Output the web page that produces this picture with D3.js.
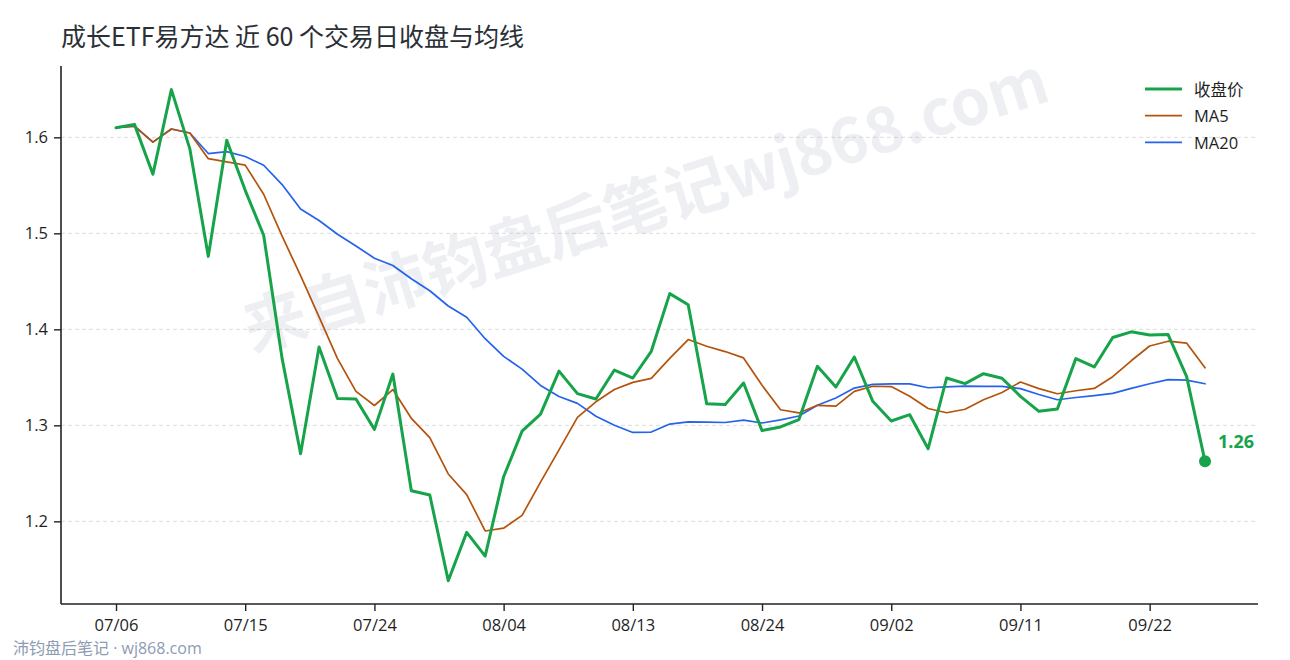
<!DOCTYPE html>
<html>
<head>
<meta charset="utf-8">
<script src="https://cdn.jsdelivr.net/npm/d3@7/dist/d3.min.js"></script>
<style>
  html, body { margin: 0; padding: 0; background: #fff; }
  svg { display: block; font-family: "Open Sans", "Noto Sans CJK SC", sans-serif; }
</style>
</head>
<body>
<svg id="chart" width="1290" height="660"></svg>
<script>
const titleText = "成长ETF易方达 近 60 个交易日收盘与均线";
const watermarkText = "来自沛钧盘后笔记wj868.com";
const footerText = "沛钧盘后笔记 · wj868.com";

const dates = [
  "07/06","07/07","07/08","07/09","07/10","07/13","07/14","07/15","07/16","07/17",
  "07/20","07/21","07/22","07/23","07/24","07/27","07/28","07/29","07/30","07/31",
  "08/03","08/04","08/05","08/06","08/07","08/10","08/11","08/12","08/13","08/14",
  "08/17","08/18","08/19","08/20","08/21","08/24","08/25","08/26","08/27","08/28",
  "08/31","09/01","09/02","09/03","09/04","09/07","09/08","09/09","09/10","09/11",
  "09/14","09/15","09/16","09/17","09/18","09/21","09/22","09/23","09/24","09/25"
];

const closePrices = [
  1.610, 1.6135, 1.5615, 1.6497, 1.588, 1.476, 1.5969, 1.5448, 1.498, 1.3695,
  1.2705, 1.3816, 1.328, 1.3275, 1.2958, 1.3534, 1.2319, 1.2274, 1.1382, 1.1885,
  1.1638, 1.2465, 1.2940, 1.3117, 1.3565, 1.3330, 1.3275, 1.3576, 1.3493, 1.3771,
  1.4372, 1.4257, 1.3226, 1.3216, 1.3441, 1.2945, 1.2983, 1.3060, 1.3615, 1.3399,
  1.3712, 1.3250, 1.3045, 1.3111, 1.2757, 1.3493, 1.3434, 1.3538, 1.3490, 1.3302,
  1.3146, 1.3170, 1.3695, 1.3608, 1.3915, 1.3974, 1.3940, 1.3945, 1.3510, 1.2625
];

const yTicks = [1.2, 1.3, 1.4, 1.5, 1.6];
const xTickIndex = [0, 7, 14, 21, 28, 35, 42, 49, 56];
const seriesNames = ["收盘价", "MA5", "MA20"];
const seriesColors = ["#17a34a", "#b4530b", "#2563eb"];
const seriesWidths = [3, 1.7, 1.7];

// moving averages of the close (window shrinks at the start)
function rollingMean(arr, n) {
  return arr.map((_, i) => d3.mean(arr.slice(Math.max(0, i - n + 1), i + 1)));
}
const ma5 = rollingMean(closePrices, 5);
const ma20 = rollingMean(closePrices, 20);
const allSeries = [closePrices, ma5, ma20];

const svg = d3.select("#chart");
const pLeft = 61, pRight = 1258, pTop = 66, pBottom = 604;
const labelFont = "'Open Sans', 'Noto Sans CJK SC', sans-serif";

const x = d3.scaleLinear().domain([-2.98, 61.87]).range([pLeft, pRight]);
const y = d3.scaleLinear().domain([1.1139, 1.6743]).range([pBottom, pTop]);

// title
svg.append("text")
  .attr("x", 61).attr("y", 46)
  .attr("font-family", "'Noto Sans CJK SC', sans-serif")
  .attr("font-size", 25).attr("fill", "#2b2f36")
  .text(titleText);

// grid
svg.append("g").selectAll("line").data(yTicks).join("line")
  .attr("x1", pLeft).attr("x2", pRight)
  .attr("y1", d => y(d)).attr("y2", d => y(d))
  .attr("stroke", "#dcdcdc").attr("stroke-width", 1)
  .attr("stroke-dasharray", "4,3");

// watermark
svg.append("text")
  .attr("transform", "translate(644,200) rotate(-17.5)")
  .attr("text-anchor", "middle").attr("dominant-baseline", "central")
  .attr("font-family", "'Noto Sans CJK SC', sans-serif")
  .attr("font-size", 63).attr("font-weight", 700)
  .attr("fill", "#9aa3ba").attr("fill-opacity", 0.17)
  .text(watermarkText);

// axes
const yAxis = d3.axisLeft(y).tickValues(yTicks).tickFormat(d3.format(".1f")).tickSize(7).tickPadding(6);
const gy = svg.append("g").attr("transform", `translate(${pLeft},0)`).call(yAxis);
gy.select(".domain").attr("d", `M0,${pTop}V${pBottom}`);

const xAxis = d3.axisBottom(x).tickValues(xTickIndex).tickFormat(i => dates[i]).tickSize(7).tickPadding(8);
const gx = svg.append("g").attr("transform", `translate(0,${pBottom})`).call(xAxis);
gx.select(".domain").attr("d", `M${pLeft},0H${pRight}`);

[gx, gy].forEach(g => {
  g.select(".domain").attr("stroke", "#222").attr("stroke-width", 1.6);
  g.selectAll(".tick line").attr("stroke", "#222").attr("stroke-width", 1.4);
  g.selectAll(".tick text").attr("font-size", 16.5).attr("fill", "#1f1f1f")
    .attr("font-family", labelFont);
});

// lines (draw MAs first, then close on top)
const line = d3.line().x((d, i) => x(i)).y(d => y(d));
[2, 1, 0].forEach(k => {
  svg.append("path")
    .datum(allSeries[k])
    .attr("d", line)
    .attr("fill", "none")
    .attr("stroke", seriesColors[k])
    .attr("stroke-width", seriesWidths[k])
    .attr("stroke-linejoin", "round")
    .attr("stroke-linecap", "round");
});

// last point marker
const lastI = closePrices.length - 1;
svg.append("circle")
  .attr("cx", x(lastI)).attr("cy", y(closePrices[lastI]))
  .attr("r", 6).attr("fill", seriesColors[0]);
svg.append("text")
  .attr("x", x(lastI) + 13).attr("y", y(closePrices[lastI]) - 13)
  .attr("font-family", labelFont)
  .attr("font-size", 18).attr("font-weight", 700).attr("fill", seriesColors[0])
  .text(d3.format(".2f")(closePrices[lastI]));

// legend
const lg = svg.append("g");
seriesNames.forEach((name, k) => {
  const ly = 89 + k * 26.7;
  lg.append("line")
    .attr("x1", 1145).attr("x2", 1182).attr("y1", ly).attr("y2", ly)
    .attr("stroke", seriesColors[k]).attr("stroke-width", seriesWidths[k]);
  lg.append("text")
    .attr("x", 1194).attr("y", ly).attr("dominant-baseline", "central")
    .attr("font-family", labelFont)
    .attr("font-size", 16.5).attr("fill", "#1f1f1f")
    .text(name);
});

// footer
svg.append("text")
  .attr("x", 13).attr("y", 654)
  .attr("font-family", labelFont)
  .attr("font-size", 16).attr("fill", "#8e9bb3")
  .text(footerText);
</script>
</body>
</html>
